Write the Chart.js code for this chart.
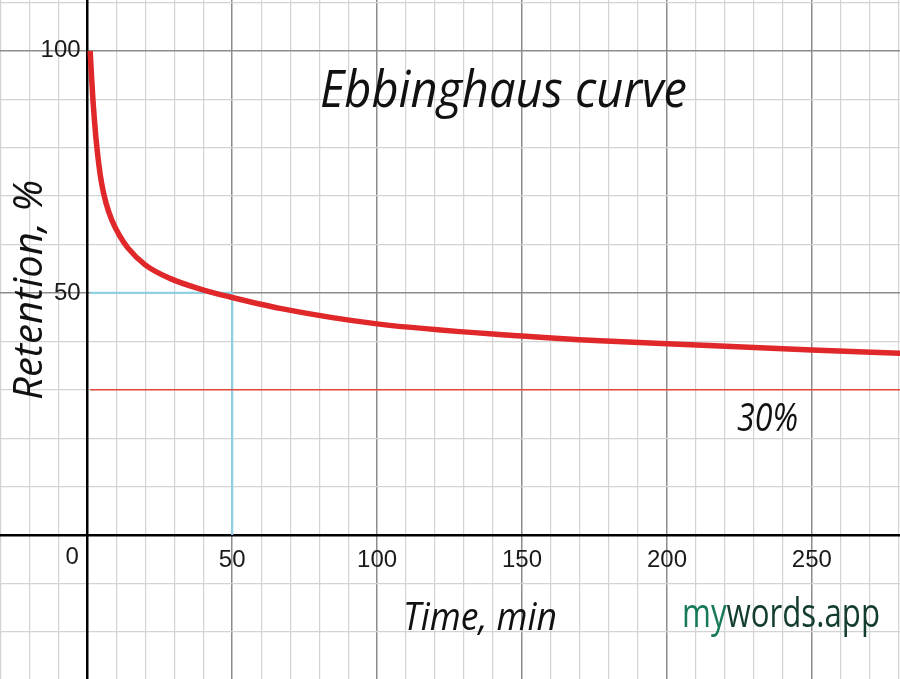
<!DOCTYPE html>
<html>
<head>
<meta charset="utf-8">
<script src="https://cdn.jsdelivr.net/npm/chart.js@4.4.1/dist/chart.umd.min.js"></script>
<style>
  html, body { margin: 0; padding: 0; background: #fff; }
  #wrap { width: 900px; height: 679px; position: relative; }
</style>
</head>
<body>
<div id="wrap"><canvas id="chart"></canvas></div>
<script>
// values
const timeMin   = [1, 1.5, 2, 2.5, 3, 4, 5, 6.5, 8.5, 11, 14, 20, 28.5, 39, 49, 66.5, 100, 150, 177, 200, 250, 281];
const retention = [100, 94.5, 89.5, 85.5, 82, 76.5, 72.5, 68.5, 65, 62, 59.3, 55.8, 53.0, 50.8, 49.2, 46.8, 43.6, 41.1, 40.1, 39.5, 38.2, 37.5];

const floorLevel = 30;          // thin red line
const floorFrom = 1;
const floorTo = 281;
const halfTime = 50;            // cyan guide
const halfRetention = 50;

const xTickLabels = [50, 100, 150, 200, 250];
const yTickLabels = [50, 100];

const TICK_FONT = { family: "'Liberation Sans Narrow', 'Liberation Sans', Arial", size: 24 };

// --- helper: draw text squeezed to a given width ---
function fitText(ctx, text, x, y, font, color, width) {
  ctx.save();
  ctx.font = font;
  ctx.fillStyle = color;
  ctx.textBaseline = "alphabetic";
  ctx.textAlign = "left";
  const w = ctx.measureText(text).width;
  const k = width / w;
  ctx.translate(x, y);
  ctx.scale(k, 1);
  ctx.fillText(text, 0, 0);
  ctx.restore();
}

const labelsPlugin = {
  id: "labels",
  beforeDraw(chart) {
    const c = chart.ctx;
    c.save();
    c.fillStyle = "#fff";
    c.fillRect(0, 0, chart.width, chart.height);
    c.restore();
  },
  afterDraw(chart) {
    const c = chart.ctx;
    const sx = chart.scales.x, sy = chart.scales.y;
    const x0 = sx.getPixelForValue(0), y0 = sy.getPixelForValue(0);

    // origin label
    c.save();
    c.font = `${TICK_FONT.size}px ${TICK_FONT.family}`;
    c.fillStyle = "#1a1a1a";
    c.textAlign = "center";
    c.textBaseline = "middle";
    c.fillText("0", x0 - 15, y0 + 22);
    c.restore();

    fitText(c, "Ebbinghaus curve", 320, 107, "italic 52px 'Open Sans'", "#111", 367);
    fitText(c, "Time, min", 403, 630, "italic 39px 'Open Sans'", "#111", 154);
    fitText(c, "30%", 737, 431, "italic 39px 'Open Sans'", "#111", 61);

    // rotated y title
    c.save();
    c.translate(42, 400);
    c.rotate(-Math.PI / 2);
    fitText(c, "Retention, %", 0, 0, "italic 40px 'Open Sans'", "#111", 220);
    c.restore();

    // watermark, two colours
    c.save();
    c.font = "40px 'Open Sans'";
    const full = c.measureText("mywords.app").width;
    const k = 198 / full;
    const myW = c.measureText("my").width * k;
    c.restore();
    fitText(c, "my", 682, 627, "40px 'Open Sans'", "#16795a", myW);
    fitText(c, "words.app", 682 + myW, 627, "40px 'Open Sans'", "#123d2c", 198 - myW);
  }
};

function gridColor(ctx) {
  const v = ctx.tick.value;
  if (v === 0) return "rgba(0,0,0,0)";
  return v % 50 === 0 ? "#8c8c8c" : "#d3d3d3";
}
function gridWidth(ctx) {
  return ctx.tick.value % 50 === 0 ? 1.5 : 1.2;
}
function noPadding(scale) {
  scale.paddingLeft = 0; scale.paddingRight = 0;
  scale.paddingTop = 0; scale.paddingBottom = 0;
}

const ctx = document.getElementById("chart").getContext("2d");

new Chart(ctx, {
  type: "scatter",
  data: {
    datasets: [
      {
        label: "Retention",
        data: timeMin.map((t, i) => ({ x: t, y: retention[i] })),
        showLine: true,
        borderColor: "#e0282b",
        borderWidth: 5.5,
        pointRadius: 0,
        cubicInterpolationMode: "monotone"
      },
      {
        label: "30%",
        data: [{ x: floorFrom, y: floorLevel }, { x: floorTo, y: floorLevel }],
        showLine: true,
        borderColor: "#e4493f",
        borderWidth: 1.3,
        pointRadius: 0
      },
      {
        label: "half",
        data: [{ x: floorFrom, y: halfRetention }, { x: halfTime, y: halfRetention }, { x: halfTime, y: 0 }],
        showLine: true,
        borderColor: "#8fd0e3",
        borderWidth: 2.2,
        pointRadius: 0
      }
    ]
  },
  options: {
    responsive: true,
    maintainAspectRatio: false,
    animation: false,
    layout: { padding: 0 },
    plugins: { legend: { display: false }, tooltip: { enabled: false } },
    scales: {
      x: {
        type: "linear",
        position: { y: 0 },
        min: -30.1,
        max: 280.4,
        afterFit: noPadding,
        grid: { color: gridColor, lineWidth: gridWidth, drawTicks: false },
        border: { color: "#000", width: 2.5 },
        ticks: {
          stepSize: 10,
          includeBounds: false,
          autoSkip: false,
          maxRotation: 0,
          padding: 11,
          color: "#1a1a1a",
          font: TICK_FONT,
          callback: v => xTickLabels.includes(v) ? String(v) : ""
        }
      },
      y: {
        type: "linear",
        position: { x: 0 },
        min: -29.75,
        max: 110.5,
        afterFit: noPadding,
        grid: { color: gridColor, lineWidth: gridWidth, drawTicks: false },
        border: { color: "#000", width: 2.5 },
        ticks: {
          stepSize: 10,
          includeBounds: false,
          autoSkip: false,
          color: "#1a1a1a",
          font: TICK_FONT,
          // centred axes ignore padding on y, a trailing space keeps the gap
          callback: v => yTickLabels.includes(v) ? v + " " : ""
        }
      }
    }
  },
  plugins: [labelsPlugin]
});
</script>
</body>
</html>
